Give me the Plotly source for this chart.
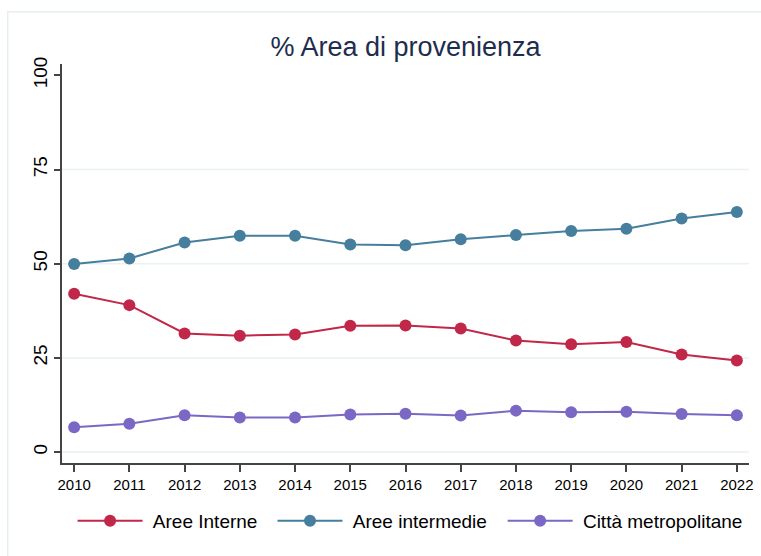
import plotly.graph_objects as go

# Share of people by area of origin, 2010-2022
years = [2010, 2011, 2012, 2013, 2014, 2015, 2016, 2017, 2018, 2019, 2020, 2021, 2022]
aree_interne = [42.0, 39.0, 31.5, 30.9, 31.2, 33.5, 33.6, 32.8, 29.6, 28.6, 29.2, 25.9, 24.3]
aree_intermedie = [49.9, 51.4, 55.6, 57.4, 57.4, 55.1, 54.9, 56.5, 57.6, 58.7, 59.3, 62.0, 63.7]
citta_metro = [6.6, 7.5, 9.8, 9.2, 9.2, 10.0, 10.2, 9.7, 11.0, 10.6, 10.7, 10.1, 9.8]

series_names = ["Aree Interne", "Aree intermedie", "Città metropolitane"]
series_values = [aree_interne, aree_intermedie, citta_metro]
series_colors = ["#C12748", "#467E9E", "#7B68C4"]
legend_ids = ["legend", "legend2", "legend3"]
legend_x = [0.0154, 0.3064, 0.6414]

y_ticks = [0, 25, 50, 75, 100]
grid_values = [0, 25, 50, 75]

fig = go.Figure()
for name, vals, col, lg in zip(series_names, series_values, series_colors, legend_ids):
    fig.add_trace(go.Scatter(
        x=years, y=vals, name="\u00a0" + name, mode="lines+markers",
        line=dict(color=col, width=2),
        marker=dict(color=col, size=12),
        legend=lg,
    ))

# light horizontal grid lines
for g in grid_values:
    fig.add_shape(type="line", xref="paper", x0=0, x1=1, yref="y", y0=g, y1=g,
                  line=dict(color="#E9F1F2", width=1.5), layer="below")

# outer frame of the graph region
fig.add_shape(type="rect", xref="paper", yref="paper",
              x0=-0.079, x1=1.05, y0=-0.3, y1=1.131,
              line=dict(color="#E6EEF0", width=1.5), layer="below")

legend_style = dict(orientation="h", xanchor="left", y=-0.145, yanchor="middle",
                    font=dict(size=19, color="#000000"), itemwidth=65,
                    bgcolor="rgba(0,0,0,0)")

fig.update_layout(
    width=761, height=556,
    margin=dict(l=62, r=12, t=64, b=93),
    paper_bgcolor="white", plot_bgcolor="white",
    font=dict(family="Liberation Sans, Arial, sans-serif", color="#000000"),
    title=dict(text="% Area di provenienza", x=0.5, xref="paper", xanchor="center",
               y=0.917, yref="container", yanchor="middle",
               font=dict(size=27, color="#1E2D4D")),
    showlegend=True,
    legend=dict(x=legend_x[0], **legend_style),
    legend2=dict(x=legend_x[1], **legend_style),
    legend3=dict(x=legend_x[2], **legend_style),
    xaxis=dict(range=[2009.78, 2022.22], tickmode="array", tickvals=years,
               ticktext=[str(y) for y in years], automargin=False,
               showgrid=False, zeroline=False, showline=True,
               linecolor="#444444", linewidth=1.5,
               ticks="outside", ticklen=7, tickcolor="#444444", tickwidth=1.5,
               tickfont=dict(size=15, color="#000000")),
    yaxis=dict(range=[-2.9, 103.0], tickmode="array", tickvals=y_ticks,
               automargin=False,
               showgrid=False, zeroline=False, showline=True,
               linecolor="#444444", linewidth=1.5,
               ticks="outside", ticklen=6, tickcolor="#444444", tickwidth=1.5,
               tickangle=-90, tickfont=dict(size=19, color="#000000")),
)

fig.write_html("out.html")
